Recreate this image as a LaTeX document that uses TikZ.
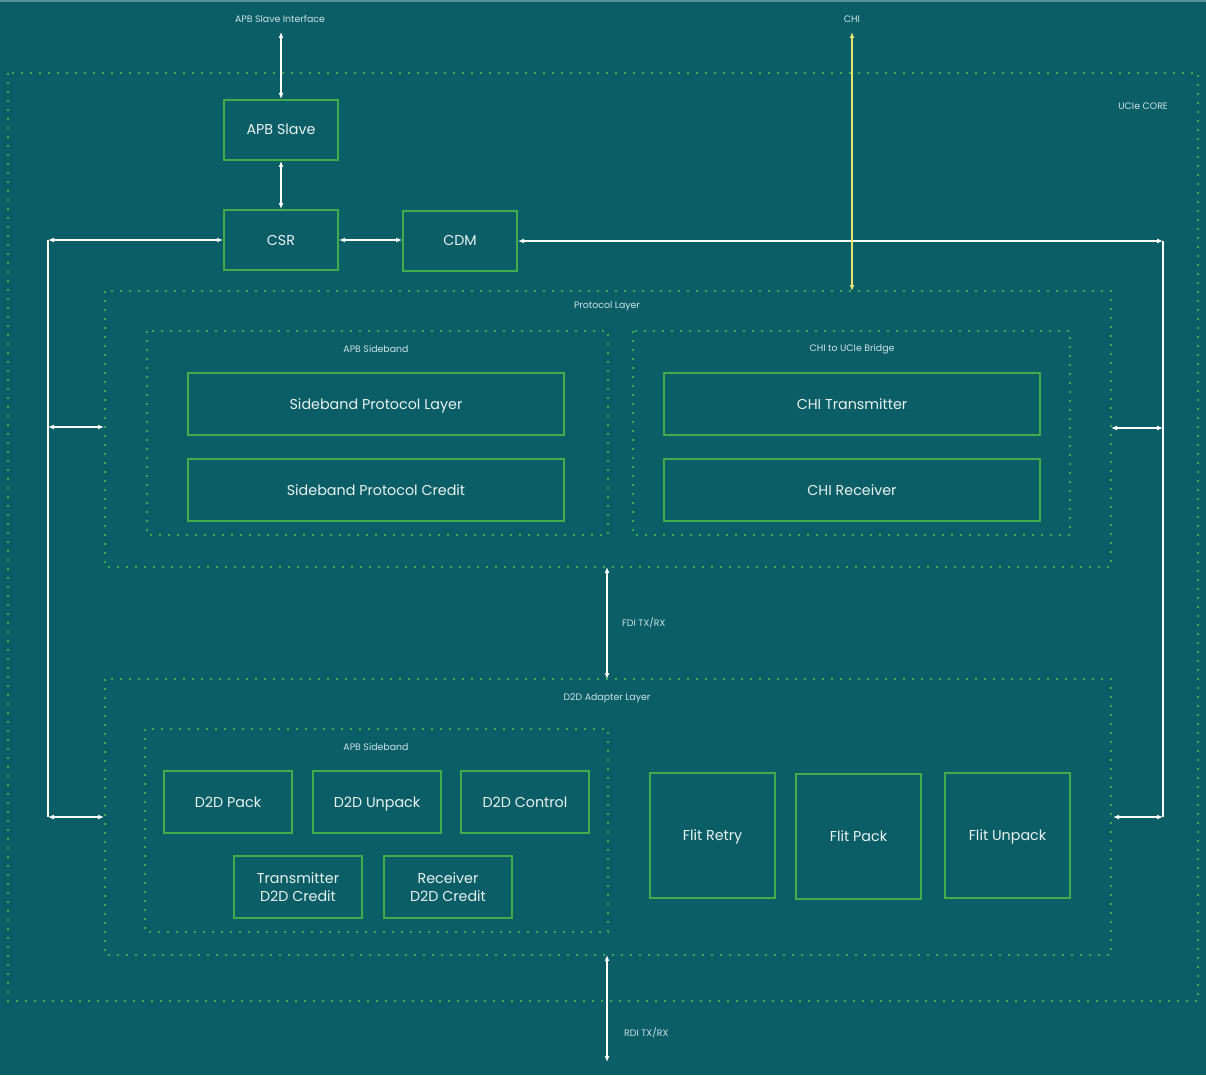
\documentclass[tikz,border=0pt]{standalone}
\usepackage{fontspec}
\setmainfont{Poppins}
\usetikzlibrary{arrows.meta}
\definecolor{bgc}{RGB}{11,93,102}
\definecolor{grn}{RGB}{64,172,74}
\definecolor{dotc}{RGB}{62,170,80}
\definecolor{txt}{RGB}{232,242,242}
\definecolor{lbl}{RGB}{205,228,232}
\definecolor{chiy}{RGB}{232,226,110}
\tikzset{
  blk/.style={draw=grn, line width=2pt, text=txt, font=\fontsize{14.3}{18}\selectfont, align=center, inner sep=0pt, text height=10pt, text depth=0pt},
  blk2/.style={blk, text height=28pt, text depth=0pt},
  grp/.style={draw=dotc, line width=2pt, dash pattern=on 1.6pt off 7.4pt},
  lab/.style={text=lbl, font=\fontsize{9.4}{11}\selectfont, inner sep=0pt},
  link/.style={draw=white, line width=1.6pt, {Latex[length=6pt,width=5pt]}-{Latex[length=6pt,width=5pt]}},
  chilink/.style={draw=chiy, line width=1.6pt, {Latex[length=6pt,width=5pt]}-{Latex[length=6pt,width=5pt]}},
  wire/.style={draw=white, line width=1.6pt},
}
\begin{document}
\begin{tikzpicture}[x=1pt,y=-1pt]
\fill[bgc] (0,0) rectangle (1206,1075);
\useasboundingbox (0,0) rectangle (1206,1075);
\draw[color=bgc!70!white, line width=2pt] (0,1) -- (1206,1);

% group boxes
\draw[grp] (8,73) rectangle (1198,1001);
\node[lab, anchor=east] (corel) at (1168,106) {UCIe CORE};
\draw[grp] (105,291) rectangle (1111,567);
\node[lab] (protl) at (607,306) {Protocol Layer};
\draw[grp] (147,331) rectangle (608,535);
\node[lab] (apbsb1) at (376,349) {APB Sideband};
\draw[grp] (633,331) rectangle (1070,535);
\node[lab] (chib) at (852,349) {CHI to UCIe Bridge};
\draw[grp] (105,679) rectangle (1111,955);
\node[lab] (d2dl) at (607,698) {D2D Adapter Layer};
\draw[grp] (145,729) rectangle (608,932);
\node[lab] (apbsb2) at (376,747) {APB Sideband};

% coordinates on group edges
\coordinate (protL427) at (104,427);
\coordinate (protR428) at (1111,428);
\coordinate (d2dL817) at (104,817);
\coordinate (d2dR817) at (1113,817);
\coordinate (protTop) at (852,291);
\coordinate (protBot) at (607,567);
\coordinate (d2dTop) at (607,679);
\coordinate (d2dBot) at (607,955);
\coordinate (rdiEnd) at (607,1062);
\coordinate (apbIf) at (281,32);
\coordinate (chiTop) at (852,32);
\coordinate (lbusT) at (48,240);
\coordinate (lbusB) at (48,817);
\coordinate (lbusM) at (48,427);
\coordinate (rbusT) at (1163,241);
\coordinate (rbusB) at (1163,817);
\coordinate (rbusM) at (1163,428);

% blocks
\node[blk, minimum width=114pt, minimum height=60pt] (apbs) at (281,130) {APB Slave};
\node[blk, minimum width=114pt, minimum height=60pt] (csr) at (281,240) {CSR};
\node[blk, minimum width=114pt, minimum height=59pt] (cdm) at (460,241) {CDM};
\node[blk, minimum width=376pt, minimum height=62pt] (spl) at (376,404) {Sideband Protocol Layer};
\node[blk, minimum width=376pt, minimum height=62pt] (spc) at (376,490) {Sideband Protocol Credit};
\node[blk, minimum width=376pt, minimum height=62pt] (chit) at (852,404) {CHI Transmitter};
\node[blk, minimum width=376pt, minimum height=62pt] (chir) at (852,490) {CHI Receiver};
\node[blk, minimum width=128pt, minimum height=62pt] (pack) at (228,802) {D2D Pack};
\node[blk, minimum width=128pt, minimum height=62pt] (unpack) at (377,802) {D2D Unpack};
\node[blk, minimum width=128pt, minimum height=62pt] (ctrl) at (525,802) {D2D Control};
\node[blk2, minimum width=128pt, minimum height=62pt] (txc) at (298,887) {Transmitter\\D2D Credit};
\node[blk2, minimum width=128pt, minimum height=62pt] (rxc) at (448,887) {Receiver\\D2D Credit};
\node[blk, minimum width=125pt, minimum height=125pt] (fretry) at (712.5,835.5) {Flit Retry};
\node[blk, minimum width=125pt, minimum height=125pt] (fpack) at (858.5,836.5) {Flit Pack};
\node[blk, minimum width=125pt, minimum height=125pt] (funpack) at (1007.5,835.5) {Flit Unpack};

% labels
\node[lab] (apbifl) at (280,19) {APB Slave Interface};
\node[lab] (chil) at (852,19) {CHI};
\node[lab, anchor=west] (fdil) at (622,623) {FDI TX/RX};
\node[lab, anchor=west] (rdil) at (624,1033) {RDI TX/RX};

% connectors
\draw[link] (apbIf) -- (apbs.north);
\draw[link] (apbs.south) -- (csr.north);
\draw[link] (csr.east) -- (cdm.west |- csr.east);
\draw[link] (lbusT) -- (csr.west);
\draw[wire] (lbusT) -- (lbusB);
\draw[link] (lbusM) -- (protL427);
\draw[link] (lbusB) -- (d2dL817);
\draw[link] (cdm.east) -- (rbusT);
\draw[wire] (rbusT) -- (rbusB);
\draw[link] (protR428) -- (rbusM);
\draw[link] (d2dR817) -- (rbusB);
\draw[chilink] (chiTop) -- (protTop);
\draw[link] (protBot) -- (d2dTop);
\draw[link] (d2dBot) -- (rdiEnd);
\end{tikzpicture}
\end{document}
